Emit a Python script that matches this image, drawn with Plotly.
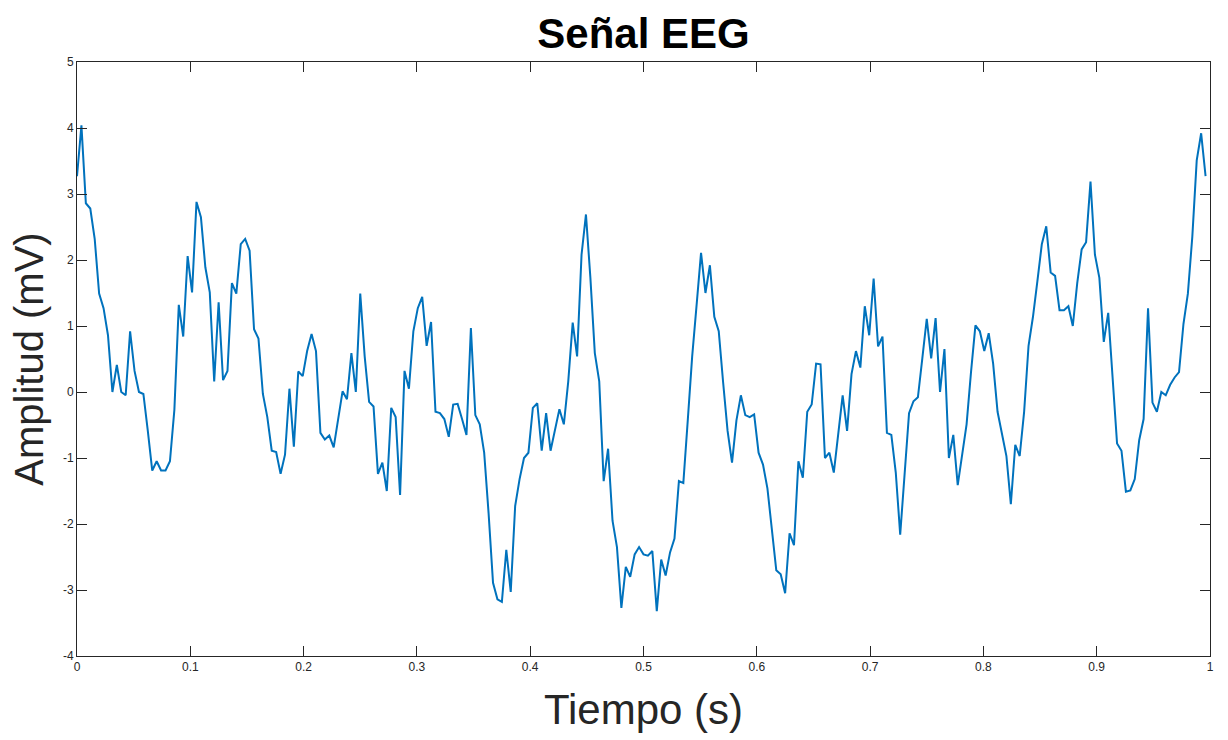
import numpy as np
import plotly.graph_objects as go

fs = 256  # sampling rate (Hz)
amplitude_mv = [
    3.27, 4.04, 2.86, 2.78, 2.32, 1.49, 1.27, 0.86, 0.00, 0.41,
    0.00, -0.05, 0.92, 0.32, 0.00, -0.03, -0.59, -1.19, -1.05, -1.19,
    -1.19, -1.05, -0.27, 1.32, 0.84, 2.06, 1.51, 2.88, 2.65, 1.89,
    1.51, 0.16, 1.36, 0.18, 0.32, 1.65, 1.49, 2.24, 2.32, 2.14,
    0.95, 0.81, -0.03, -0.38, -0.89, -0.91, -1.24, -0.95, 0.05, -0.83,
    0.31, 0.24, 0.62, 0.88, 0.62, -0.62, -0.72, -0.66, -0.84, -0.38,
    0.01, -0.11, 0.59, 0.00, 1.49, 0.54, -0.15, -0.22, -1.24, -1.07,
    -1.50, -0.24, -0.38, -1.56, 0.32, 0.05, 0.92, 1.27, 1.44, 0.70,
    1.06, -0.30, -0.32, -0.41, -0.68, -0.19, -0.18, -0.41, -0.65, 0.97,
    -0.35, -0.49, -0.92, -1.84, -2.89, -3.14, -3.18, -2.39, -3.03, -1.73,
    -1.32, -1.00, -0.92, -0.24, -0.17, -0.89, -0.32, -0.89, -0.57, -0.26,
    -0.49, 0.16, 1.05, 0.54, 2.08, 2.69, 1.73, 0.59, 0.16, -1.35,
    -0.86, -1.95, -2.35, -3.27, -2.65, -2.80, -2.46, -2.35, -2.46, -2.48,
    -2.41, -3.32, -2.54, -2.78, -2.43, -2.22, -1.35, -1.38, -0.43, 0.54,
    1.32, 2.11, 1.50, 1.92, 1.14, 0.92, 0.14, -0.59, -1.07, -0.43,
    -0.05, -0.35, -0.38, -0.34, -0.92, -1.10, -1.46, -2.05, -2.70, -2.76,
    -3.05, -2.14, -2.32, -1.05, -1.30, -0.30, -0.19, 0.43, 0.42, -1.00,
    -0.92, -1.22, -0.59, -0.05, -0.59, 0.27, 0.62, 0.37, 1.30, 0.86,
    1.72, 0.69, 0.84, -0.62, -0.65, -1.22, -2.16, -1.27, -0.32, -0.14,
    -0.08, 0.51, 1.11, 0.51, 1.12, 0.00, 0.65, -1.00, -0.65, -1.41,
    -0.95, -0.49, 0.30, 1.01, 0.92, 0.62, 0.89, 0.43, -0.30, -0.62,
    -0.97, -1.70, -0.80, -0.97, -0.30, 0.70, 1.14, 1.68, 2.24, 2.51,
    1.81, 1.76, 1.24, 1.24, 1.30, 1.00, 1.65, 2.16, 2.27, 3.19,
    2.08, 1.73, 0.76, 1.20, 0.22, -0.78, -0.89, -1.51, -1.49, -1.32,
    -0.73, -0.41, 1.27, -0.16, -0.30, 0.00, -0.05, 0.11, 0.22, 0.30,
    1.03, 1.49, 2.35, 3.51, 3.92, 3.27,
]
time_s = np.arange(len(amplitude_mv)) / fs

x_ticks = [0, 0.1, 0.2, 0.3, 0.4, 0.5, 0.6, 0.7, 0.8, 0.9, 1]
x_tick_labels = ["0", "0.1", "0.2", "0.3", "0.4", "0.5", "0.6", "0.7", "0.8", "0.9", "1"]
y_ticks = [-4, -3, -2, -1, 0, 1, 2, 3, 4, 5]
y_tick_labels = ["-4", "-3", "-2", "-1", "0", "1", "2", "3", "4", "5"]

title_text = "Señal EEG"
x_title = "Tiempo (s)"
y_title = "Amplitud (mV)"

axis_color = "#262626"
font_family = "Liberation Sans, Arial, sans-serif"

fig = go.Figure()
fig.add_trace(go.Scatter(
    x=time_s, y=amplitude_mv, mode="lines",
    line=dict(color="#0072BD", width=2),
    showlegend=False, hoverinfo="x+y",
))

axis_common = dict(
    showgrid=False, zeroline=False, showline=True, linecolor=axis_color, linewidth=1,
    mirror="allticks", ticks="inside", ticklen=10, tickwidth=1, tickcolor=axis_color,
    tickfont=dict(family=font_family, size=12, color=axis_color),
)

fig.update_layout(
    width=1228, height=740,
    margin=dict(l=77, r=18, t=62, b=84),
    paper_bgcolor="white", plot_bgcolor="white",
    title=dict(text="<b>" + title_text + "</b>", x=0.5, xref="paper", xanchor="center",
               y=1 - 33 / 740, yanchor="middle",
               font=dict(family=font_family, size=42, color="black")),
    xaxis=dict(range=[0, 1], tickvals=x_ticks, ticktext=x_tick_labels,
               title=dict(text=x_title, standoff=21,
                          font=dict(family=font_family, size=42, color=axis_color)),
               **axis_common),
    yaxis=dict(range=[-4, 5], tickvals=y_ticks, ticktext=y_tick_labels,
               title=dict(text=y_title, standoff=6,
                          font=dict(family=font_family, size=40, color=axis_color)),
               **axis_common),
)

fig.write_html("out.html")
